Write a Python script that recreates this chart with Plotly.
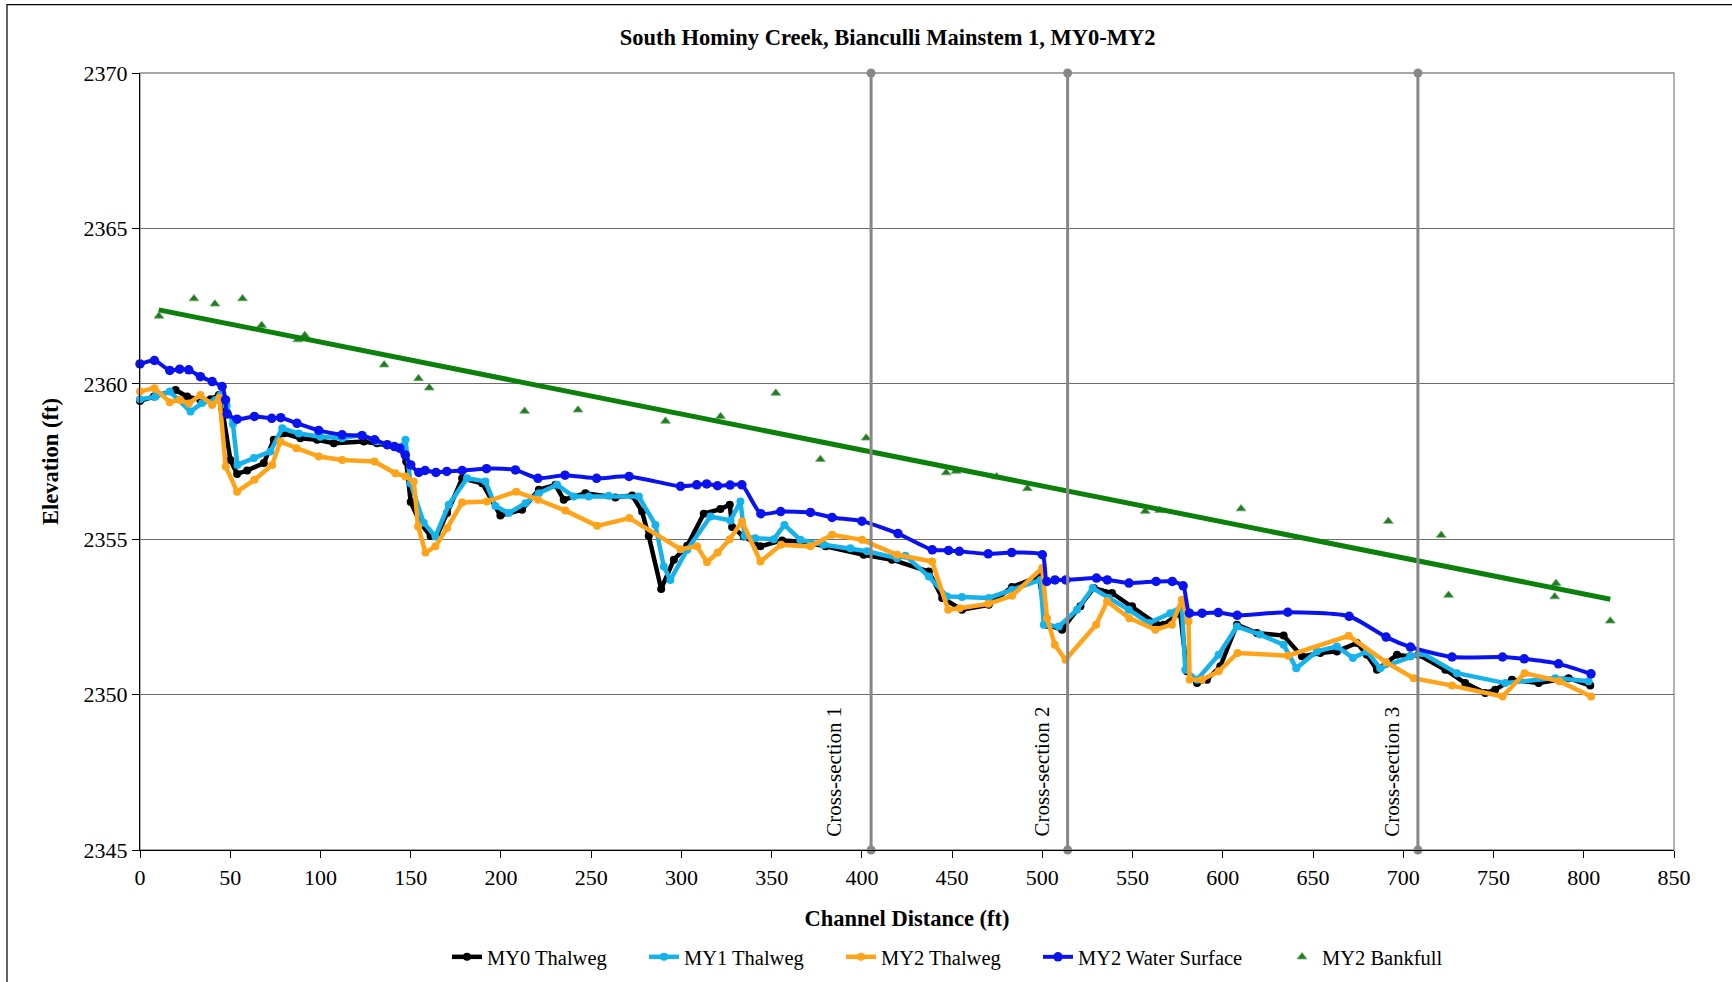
import plotly.graph_objects as go

# ---- data (ft) ----
my0_x = [0, 7.7, 19.7, 26.1, 33.5, 39.1, 43.7, 45.5, 50.1, 53.8,
         59.4, 68.6, 74.1, 79.7, 88.9, 98.2, 107.4, 124.0, 131.4, 137.0,
         144.3, 147.5, 150.0, 155.0, 161.0, 164.5, 170.2, 178.5, 189.6, 199.7,
         211.7, 221.0, 230.2, 234.8, 246.8, 263.4, 272.7, 278.2, 281.9, 288.8,
         295.8, 303.2, 312.4, 321.6, 326.8, 328.1, 334.5, 343.8, 355.8, 365.9,
         379.8, 401.0, 416.7, 437.1, 444.5, 455.5, 470.3, 483.2, 498.0, 502.6,
         510.9, 521.1, 528.5, 538.6, 549.7, 562.6, 567.2, 576.4, 580.1, 585.7,
         591.2, 598.6, 607.8, 618.9, 633.7, 643.8, 654.0, 663.2, 674.3, 679.8,
         685.4, 696.5, 703.8, 708.5, 723.3, 734.3, 745.4, 750.9, 760.2, 775.0,
         791.6, 803.6]
my0_y = [2359.45, 2359.59, 2359.80, 2359.59, 2359.48, 2359.50, 2359.64, 2359.21, 2357.55, 2357.10,
         2357.21, 2357.45, 2358.20, 2358.41, 2358.25, 2358.20, 2358.09, 2358.14, 2358.09, 2358.02,
         2357.93, 2357.50, 2356.20, 2355.55, 2355.10, 2355.10, 2355.84, 2356.96, 2356.80, 2355.76,
         2355.95, 2356.59, 2356.75, 2356.27, 2356.48, 2356.34, 2356.41, 2355.89, 2355.10, 2353.40,
         2354.34, 2354.79, 2355.82, 2355.97, 2356.11, 2355.39, 2355.09, 2354.77, 2354.96, 2354.93,
         2354.77, 2354.50, 2354.34, 2353.96, 2353.11, 2352.73, 2352.89, 2353.46, 2353.80, 2352.25,
         2352.09, 2352.84, 2353.43, 2353.27, 2352.84, 2352.30, 2352.25, 2352.62, 2350.75, 2350.37,
         2350.48, 2350.91, 2352.25, 2351.98, 2351.90, 2351.23, 2351.34, 2351.39, 2351.66, 2351.28,
         2350.80, 2351.28, 2351.23, 2351.28, 2350.80, 2350.37, 2350.05, 2350.16, 2350.48, 2350.37,
         2350.53, 2350.29]

my1_x = [0, 8.5, 16.5, 28.0, 34.4, 41.8, 44.6, 48.0, 51.5, 54.0,
         63.1, 72.3, 78.8, 88.0, 100.0, 112.0, 123.1, 131.0, 137.0, 144.0,
         147.1, 149.9, 157.2, 163.7, 171.1, 181.2, 191.4, 196.9, 204.3, 213.6,
         221.0, 231.1, 240.3, 248.6, 259.7, 276.4, 285.6, 290.2, 293.9, 303.2,
         316.1, 327.2, 332.7, 335.0, 341.0, 351.2, 357.1, 365.9, 378.9, 393.6,
         402.9, 419.5, 424.1, 437.1, 447.2, 455.5, 470.3, 483.2, 498.9, 500.8,
         509.1, 519.2, 527.9, 536.8, 547.9, 559.0, 570.9, 577.3, 579.2, 585.7,
         597.7, 607.8, 620.7, 633.7, 640.7, 652.1, 663.2, 672.1, 679.8, 687.2,
         703.8, 710.3, 729.7, 756.5, 784.2, 802.7]
my1_y = [2359.50, 2359.58, 2359.75, 2359.11, 2359.38, 2359.48, 2359.64, 2359.30, 2358.70, 2357.39,
         2357.61, 2357.82, 2358.57, 2358.40, 2358.30, 2358.25, 2358.36, 2358.15, 2358.05, 2357.90,
         2358.20, 2356.80, 2355.53, 2355.09, 2356.11, 2356.96, 2356.86, 2356.07, 2355.84, 2356.16,
         2356.48, 2356.75, 2356.37, 2356.37, 2356.40, 2356.37, 2355.46, 2354.12, 2353.69, 2354.66,
         2355.73, 2355.60, 2356.21, 2355.10, 2355.03, 2355.00, 2355.46, 2354.98, 2354.82, 2354.71,
         2354.61, 2354.39, 2354.47, 2353.80, 2353.16, 2353.14, 2353.11, 2353.37, 2353.69, 2352.25,
         2352.19, 2352.73, 2353.43, 2353.11, 2352.73, 2352.30, 2352.62, 2352.84, 2350.80, 2350.48,
         2351.28, 2352.19, 2351.93, 2351.60, 2350.85, 2351.39, 2351.55, 2351.18, 2351.39, 2350.85,
         2351.23, 2351.34, 2350.69, 2350.37, 2350.53, 2350.43]

my2_x = [0, 8.0, 16.5, 22.1, 27.1, 33.5, 40.0, 44.0, 47.5, 53.8,
         63.4, 73.2, 77.8, 86.7, 99.1, 112.0, 129.9, 141.5, 147.1, 151.7,
         154.1, 158.2, 163.7, 170.2, 178.5, 192.3, 208.4, 220.6, 235.7, 253.3,
         271.2, 299.5, 308.7, 314.2, 320.1, 326.8, 333.6, 343.8, 355.2, 371.5,
         383.5, 400.1, 419.5, 438.9, 447.8, 454.2, 470.0, 483.2, 499.9, 502.6,
         506.9, 512.8, 529.8, 535.9, 548.2, 562.6, 571.8, 577.3, 581.0, 581.6,
         588.4, 597.7, 608.2, 636.1, 669.7, 690.5, 705.7, 727.0, 755.0, 767.2,
         786.4, 804.1]
my2_y = [2359.75, 2359.86, 2359.41, 2359.48, 2359.37, 2359.64, 2359.32, 2359.55, 2357.34, 2356.53,
         2356.91, 2357.39, 2358.14, 2357.93, 2357.66, 2357.55, 2357.50, 2357.12, 2357.02, 2356.86,
         2355.41, 2354.57, 2354.77, 2355.36, 2356.18, 2356.21, 2356.53, 2356.27, 2355.92, 2355.43,
         2355.68, 2354.68, 2354.77, 2354.26, 2354.57, 2355.00, 2355.57, 2354.28, 2354.82, 2354.77,
         2355.14, 2354.98, 2354.50, 2354.28, 2352.73, 2352.78, 2352.92, 2353.18, 2354.07, 2352.46,
         2351.60, 2351.12, 2352.25, 2353.00, 2352.46, 2352.09, 2352.25, 2353.05, 2352.36, 2350.48,
         2350.48, 2350.75, 2351.34, 2351.25, 2351.89, 2351.04, 2350.53, 2350.29, 2349.94, 2350.69,
         2350.43, 2349.94]

ws_x = [0, 8.0, 16.5, 22.0, 27.0, 33.5, 40.0, 45.5, 47.4, 48.3,
        53.8, 63.4, 73.0, 78.0, 87.0, 99.0, 112.0, 123.0, 130.0, 137.0,
        141.0, 144.0, 147.0, 150.0, 154.5, 158.0, 164.0, 170.0, 178.5, 192.0,
        208.0, 220.5, 235.5, 253.0, 271.0, 299.5, 308.5, 314.0, 320.0, 327.0,
        333.5, 344.0, 355.0, 371.5, 383.5, 400.0, 420.0, 439.0, 448.0, 454.0,
        470.0, 483.0, 500.0, 502.5, 507.0, 513.0, 530.0, 536.0, 548.0, 563.0,
        572.0, 578.0, 581.5, 588.5, 597.5, 608.0, 636.0, 670.0, 690.5, 704.0,
        727.0, 755.0, 767.0, 786.0, 804.0]
ws_y = [2360.64, 2360.75, 2360.43, 2360.47, 2360.45, 2360.23, 2360.07, 2359.91, 2359.48, 2359.03,
        2358.86, 2358.95, 2358.89, 2358.91, 2358.73, 2358.50, 2358.36, 2358.33, 2358.20, 2358.04,
        2357.98, 2357.93, 2357.71, 2357.39, 2357.15, 2357.21, 2357.15, 2357.18, 2357.21, 2357.27,
        2357.23, 2356.96, 2357.06, 2356.96, 2357.02, 2356.70, 2356.75, 2356.78, 2356.72, 2356.74,
        2356.75, 2355.82, 2355.89, 2355.86, 2355.70, 2355.58, 2355.18, 2354.66, 2354.64, 2354.61,
        2354.53, 2354.57, 2354.50, 2353.64, 2353.69, 2353.69, 2353.75, 2353.69, 2353.59, 2353.64,
        2353.64, 2353.50, 2352.62, 2352.62, 2352.64, 2352.55, 2352.65, 2352.52, 2351.85, 2351.53,
        2351.21, 2351.21, 2351.15, 2350.99, 2350.67]

bkf_x = [10.5, 29.9, 41.5, 56.8, 67.4, 87.5, 91.3, 135.3, 154.3, 160.3,
         213.1, 242.7, 291.2, 321.7, 352.3, 377.0, 402.4, 446.7, 452.2, 474.6,
         491.7, 557.0, 565.0, 610.1, 691.7, 721.0, 725.1, 783.9, 784.6, 814.7]
bkf_y = [2362.18, 2362.74, 2362.57, 2362.74, 2361.88, 2361.42, 2361.56, 2360.61, 2360.17, 2359.87,
         2359.12, 2359.16, 2358.80, 2358.95, 2359.70, 2357.57, 2358.26, 2357.14, 2357.19, 2357.01,
         2356.63, 2355.90, 2355.93, 2355.98, 2355.58, 2355.13, 2353.20, 2353.15, 2353.58, 2352.37]

# linear bankfull trend, as drawn in the original
trend_x = [10.4, 814.7]
trend_y = [2362.38, 2353.07]

xsec_x = [405.1, 514.0, 708.1]
xsec_names = ["Cross-section 1", "Cross-section 2", "Cross-section 3"]

for a, b in [(my0_x, my0_y), (my1_x, my1_y), (my2_x, my2_y), (ws_x, ws_y), (bkf_x, bkf_y)]:
    assert len(a) == len(b), (len(a), len(b))

Y_RANGE = [2345, 2370]
X_RANGE = [0, 850]
FONT = "Liberation Serif, Times New Roman, serif"
W, H = 1732, 982

fig = go.Figure()


def profile(name, x, y, color, legend, width=4.5, size=8, shape="linear"):
    return go.Scatter(x=x, y=y, name=name, mode="lines+markers", cliponaxis=False, legend=legend,
                      line=dict(color=color, width=width, shape=shape, smoothing=0.6),
                      marker=dict(color=color, size=size))


fig.add_trace(profile("MY0 Thalweg", my0_x, my0_y, "#000000", "legend"))
fig.add_trace(profile("MY1 Thalweg", my1_x, my1_y, "#16B2EC", "legend2"))
fig.add_trace(profile("MY2 Thalweg", my2_x, my2_y, "#FFA31A", "legend3"))
fig.add_trace(profile("MY2 Water Surface", ws_x, ws_y, "#0A12EE", "legend4",
                      width=4, size=9.5, shape="spline"))
fig.add_trace(go.Scatter(x=bkf_x, y=bkf_y, name="MY2 Bankfull", mode="markers", legend="legend5",
                         marker=dict(symbol="triangle-up", size=8.5, color="#247A24",
                                     line=dict(color="#6BAA6B", width=0.8))))
fig.add_trace(go.Scatter(x=trend_x, y=trend_y, mode="lines", showlegend=False,
                         line=dict(color="#0B800B", width=5), hoverinfo="skip"))

label_shift = [-36.7, -25.5, -25.5]
for xs, nm, sh in zip(xsec_x, xsec_names, label_shift):
    fig.add_trace(go.Scatter(x=[xs, xs], y=Y_RANGE, mode="lines+markers", showlegend=False,
                             cliponaxis=False, hoverinfo="skip",
                             line=dict(color="#878787", width=3),
                             marker=dict(color="#878787", size=9)))
    fig.add_annotation(x=xs, y=2347.53, text=nm, textangle=-90, showarrow=False,
                       xshift=sh, xanchor="center", yanchor="middle",
                       font=dict(family=FONT, size=21, color="black"))

# one legend per entry so the spacing follows the original's wide layout
legend_text_left = [486, 683, 880, 1077, 1321]
legend_style = dict(orientation="h", xref="container", yref="container", xanchor="left",
                    y=1 - 957 / H, yanchor="middle", bgcolor="rgba(0,0,0,0)",
                    font=dict(family=FONT, size=20.5, color="black"))
legends = {}
for i, tx in enumerate(legend_text_left):
    key = "legend" if i == 0 else f"legend{i + 1}"
    legends[key] = dict(legend_style, x=(tx - 39) / W)

fig.update_layout(
    width=W, height=H,
    margin=dict(l=139.5, r=58, t=73, b=131.5, autoexpand=False),
    paper_bgcolor="white", plot_bgcolor="white",
    font=dict(family=FONT, size=22, color="black"),
    title=dict(text="<b>South Hominy Creek, Bianculli Mainstem 1, MY0-MY2</b>",
               x=887.6 / W, xanchor="center", y=1 - 37.5 / H, yanchor="middle",
               font=dict(family=FONT, size=22.5, color="black")),
    xaxis=dict(range=X_RANGE, dtick=50, tick0=0, showgrid=False, zeroline=False,
               automargin=False, showline=True, linecolor="black", linewidth=1.3,
               ticks="outside", ticklen=7, tickwidth=1.3, tickcolor="black",
               tickfont=dict(family=FONT, size=22),
               title=dict(text="<b>Channel Distance (ft)</b>", standoff=21,
                          font=dict(family=FONT, size=22.5))),
    xaxis2=dict(range=X_RANGE, dtick=50, tick0=0, overlaying="x", anchor="y", side="bottom",
                showgrid=False, zeroline=False, showline=False, showticklabels=False,
                automargin=False, ticks="inside", ticklen=7, tickwidth=1.3, tickcolor="black"),
    yaxis=dict(range=Y_RANGE, dtick=5, showgrid=True, gridcolor="#6b6b6b", gridwidth=1.2,
               zeroline=False, automargin=False, showline=True, linecolor="black", linewidth=1.3,
               ticks="outside", ticklen=7, tickwidth=1.3, tickcolor="black",
               tickfont=dict(family=FONT, size=22),
               title=dict(text="<b>Elevation (ft)</b>", standoff=18,
                          font=dict(family=FONT, size=22.5))),
    shapes=[
        dict(type="rect", xref="paper", yref="paper", x0=0, x1=1, y0=0, y1=1,
             line=dict(color="#8a8a8a", width=1.3), layer="below"),
        dict(type="rect", xref="paper", yref="paper", x0=-0.0867, x1=1.2, y0=-0.2, y1=1.088,
             line=dict(color="black", width=1.2), layer="below"),
    ],
    showlegend=True,
    **legends,
)

fig.write_html("out.html", config={"displayModeBar": False},
               post_script="document.body.style.margin='0';document.body.style.overflow='hidden';")
